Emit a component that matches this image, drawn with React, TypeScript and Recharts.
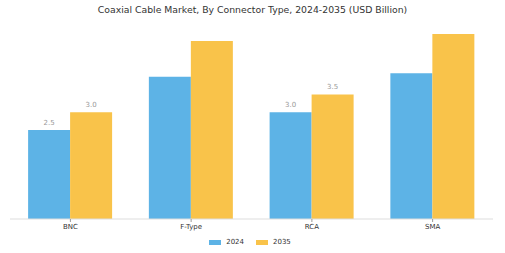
import React from 'react';
import { BarChart, Bar, XAxis, YAxis, Legend, LabelList } from 'recharts';

const categories = ['BNC', 'F-Type', 'RCA', 'SMA'];
const values2024 = [2.5, 4.0, 3.0, 4.1];
const values2035 = [3.0, 5.0, 3.5, 5.2];
const labelled = ['BNC', 'RCA'];

const data = categories.map((name, i) => ({ name, y2024: values2024[i], y2035: values2035[i] }));

const font = '"DejaVu Sans", sans-serif';

const ValueLabel = (props: any) => {
    const { x, y, width, value, index } = props;
    if (!labelled.includes(categories[index])) return null;
    return (
        <text x={x + width / 2} y={y - 5} textAnchor="middle" fontSize={7} fill="#999" fontFamily={font}>
            {Number(value).toFixed(1)}
        </text>
    );
};

const LegendContent = (props: any) => (
    <div style={{ display: 'flex', justifyContent: 'center', gap: 12, paddingTop: 3, paddingRight: 3, fontFamily: font, fontSize: 7, color: '#333' }}>
        {props.payload.map((p: any) => (
            <div key={p.value} style={{ display: 'flex', alignItems: 'center', gap: 5 }}>
                <div style={{ width: 12, height: 5, background: p.color }} />
                <span>{p.value}</span>
            </div>
        ))}
    </div>
);

export default function App() {
    return (
        <div style={{ position: 'fixed', left: 0, top: 0, width: 505, height: 253, background: '#fff' }}>
            <div style={{ position: 'absolute', top: 4, width: 505, textAlign: 'center', fontFamily: font, fontSize: 9.3, color: '#333' }}>
                Coaxial Cable Market, By Connector Type, 2024-2035 (USD Billion)
            </div>
            <BarChart width={505} height={253} data={data} margin={{ top: 34, right: 12, bottom: 0, left: 10 }} barCategoryGap="15%" barGap={0}>
                <XAxis dataKey="name" axisLine={{ stroke: '#ddd' }} tickLine={{ stroke: '#999' }} tickSize={3} height={16}
                    tick={{ fontSize: 7, fill: '#333', fontFamily: font }} interval={0} />
                <YAxis hide domain={[0, 5.2]} />
                <Legend verticalAlign="bottom" height={18} content={<LegendContent />} />
                <Bar dataKey="y2024" name="2024" fill="#5DB3E6" isAnimationActive={false}>
                    <LabelList dataKey="y2024" content={<ValueLabel />} />
                </Bar>
                <Bar dataKey="y2035" name="2035" fill="#F9C34A" isAnimationActive={false}>
                    <LabelList dataKey="y2035" content={<ValueLabel />} />
                </Bar>
            </BarChart>
        </div>
    );
}
